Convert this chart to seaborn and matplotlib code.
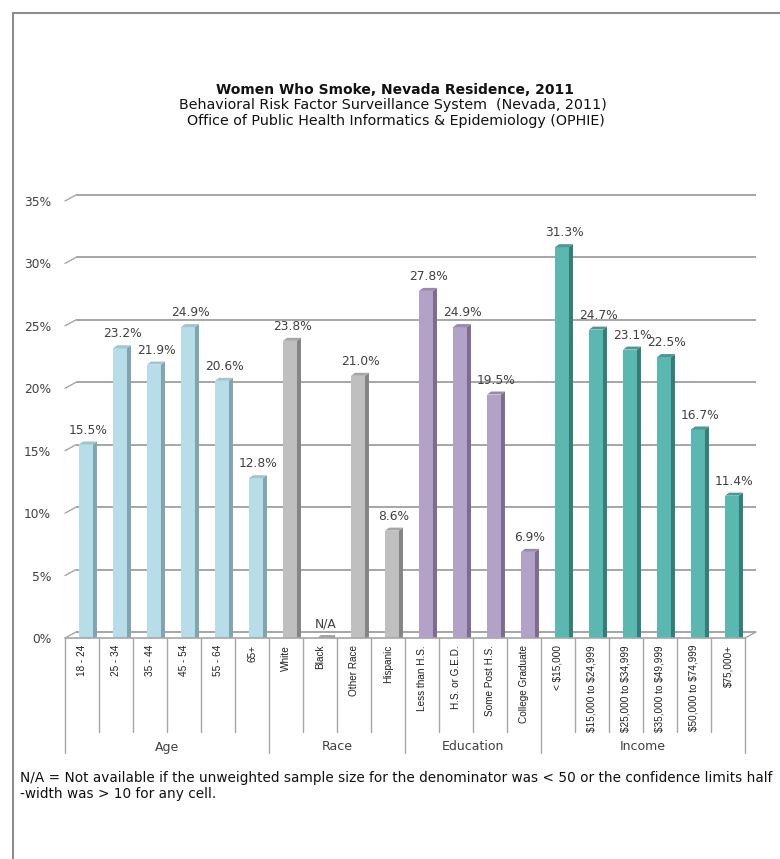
import numpy as np
import pandas as pd
import matplotlib
matplotlib.use("Agg")
import matplotlib.pyplot as plt
import seaborn as sns
from matplotlib.patches import Polygon, Rectangle
from matplotlib.lines import Line2D

# ---------------- data ----------------
groups = ["Age", "Race", "Education", "Income"]
age_cats = ["18 - 24", "25 - 34", "35 - 44", "45 - 54", "55 - 64", "65+"]
age_vals = [15.5, 23.2, 21.9, 24.9, 20.6, 12.8]
race_cats = ["White", "Black", "Other Race", "Hispanic"]
race_vals = [23.8, None, 21.0, 8.6]
edu_cats = ["Less than H.S.", "H.S. or G.E.D.", "Some Post H.S.", "College Graduate"]
edu_vals = [27.8, 24.9, 19.5, 6.9]
inc_cats = ["< $15,000", "$15,000 to $24,999", "$25,000 to $34,999",
            "$35,000 to $49,999", "$50,000 to $74,999", "$75,000+"]
inc_vals = [31.3, 24.7, 23.1, 22.5, 16.7, 11.4]
y_ticks = [0, 5, 10, 15, 20, 25, 30, 35]

title = "Women Who Smoke, Nevada Residence, 2011"
subtitle1 = "Behavioral Risk Factor Surveillance System  (Nevada, 2011)"
subtitle2 = "Office of Public Health Informatics & Epidemiology (OPHIE)"
footnote = ("N/A = Not available if the unweighted sample size for the denominator was < 50 or the confidence limits half\n"
            "-width was > 10 for any cell.")

front_colors = {"Age": "#B7DEE8", "Race": "#BFBFBF", "Education": "#B3A2C7", "Income": "#5BB8B1"}
side_colors = {"Age": "#7FA6B0", "Race": "#858585", "Education": "#7C6C90", "Income": "#327F7A"}
top_colors = {"Age": "#9DC6D0", "Race": "#A5A5A5", "Education": "#9A89AE", "Income": "#449C96"}

# ---------------- frame ----------------
rows = []
for g, cats, vals in [("Age", age_cats, age_vals), ("Race", race_cats, race_vals),
                      ("Education", edu_cats, edu_vals), ("Income", inc_cats, inc_vals)]:
    for c, v in zip(cats, vals):
        rows.append({"category": c, "group": g,
                     "value": 0.0 if v is None else v,
                     "label": "N/A" if v is None else f"{v:.1f}%"})
df = pd.DataFrame(rows)
order = list(df["category"])
n = len(order)

sns.set_style("white")
plt.rcParams["font.family"] = ["DejaVu Sans"]
plt.rcParams["text.parse_math"] = False

W, H, DPI = 780, 859, 100
fig = plt.figure(figsize=(W / DPI, H / DPI), dpi=DPI)

# axes geometry (pixels)
x_left, x_right = 65, 745
y_zero = 638
px_per_unit_y = 12.486
ymax = 36.0
ax = fig.add_axes([x_left / W, (H - y_zero) / H, (x_right - x_left) / W, ymax * px_per_unit_y / H])

sns.barplot(data=df, x="category", y="value", hue="group", order=order, hue_order=groups,
            palette=front_colors, dodge=False, width=0.41, saturation=1, legend=False,
            linewidth=0, ax=ax, zorder=3)
ax.set_xlim(-0.5, n - 0.5)
ax.set_ylim(0, ymax)

px_per_unit_x = (x_right - x_left) / n
shift = 4 / px_per_unit_x
sdx, sdy = 4 / px_per_unit_x, 3 / px_per_unit_y
bdx, bdy = 11 / px_per_unit_x, 6 / px_per_unit_y

bars = sorted([p for p in ax.patches if isinstance(p, Rectangle)], key=lambda p: p.get_x())
for p, (_, r) in zip(bars, df.iterrows()):
    p.set_x(p.get_x() + shift)
    x0, w, h = p.get_x(), p.get_width(), p.get_height()
    xr = x0 + w
    g = r["group"]
    ax.add_patch(Polygon([(xr, 0), (xr, h), (xr + sdx, h + sdy), (xr + sdx, 0)],
                         closed=True, facecolor=side_colors[g], edgecolor="none", zorder=3))
    ax.add_patch(Polygon([(x0, h), (xr, h), (xr + sdx, h + sdy), (x0 + sdx, h + sdy)],
                         closed=True, facecolor=top_colors[g], edgecolor="none", zorder=3))
    ax.annotate(r["label"], (x0 + w / 2 + sdx / 2, h + sdy), xytext=(0, 3.5),
                textcoords="offset points", ha="center", va="bottom",
                fontsize=8.8, color="#404040", zorder=4)

# 3D-like walls: back gridlines + diagonal edges
grid_c = "#A6A6A6"
for v in y_ticks:
    ax.plot([-0.5 + bdx, n - 0.5 + bdx], [v + bdy, v + bdy], color=grid_c, lw=1.4,
            zorder=1, clip_on=False, solid_capstyle="butt")
    ax.plot([-0.5, -0.5 + bdx], [v, v + bdy], color=grid_c, lw=1.0, zorder=1, clip_on=False)
# floor front edge and right edge
ax.plot([-0.5, n - 0.5], [0, 0], color=grid_c, lw=1.2, zorder=5, clip_on=False)
ax.plot([n - 0.5, n - 0.5 + bdx], [0, bdy], color=grid_c, lw=1.0, zorder=5, clip_on=False)

# category separators below the floor
group_bounds = [0]
for g in groups:
    group_bounds.append(group_bounds[-1] + int((df["group"] == g).sum()))
short_bottom = -(732 - y_zero) / px_per_unit_y
long_bottom = -(753 - y_zero) / px_per_unit_y
for k in range(n + 1):
    yb = long_bottom if k in group_bounds else short_bottom
    ax.plot([k - 0.5, k - 0.5], [0, yb], color=grid_c, lw=1.0, clip_on=False, zorder=5)

label_y = -(747 - y_zero) / px_per_unit_y
for i, g in enumerate(groups):
    xc = (group_bounds[i] + group_bounds[i + 1]) / 2 - 0.5
    ax.text(xc, label_y, g, ha="center", va="center", fontsize=9, color="#404040")

# axes styling
for s in ax.spines.values():
    s.set_visible(False)
ax.grid(False)
ax.set_xlabel("")
ax.set_ylabel("")
ax.set_yticks(y_ticks)
ax.set_yticklabels([f"{v}%" for v in y_ticks], fontsize=8.8, color="#404040")
ax.set_xticks(range(n))
ax.set_xticklabels(order, rotation=90, fontsize=7.2, color="#202020",
                   family=["Liberation Sans", "DejaVu Sans"])
ax.tick_params(axis="y", length=0, pad=10)
ax.tick_params(axis="x", length=0, pad=5)

# titles
fig.text(395 / W, 1 - 90 / H, title, ha="center", va="center", fontsize=10, fontweight="bold", color="#111111")
fig.text(393 / W, 1 - 105.5 / H, subtitle1, ha="center", va="center", fontsize=10.3, color="#111111")
fig.text(396 / W, 1 - 121.5 / H, subtitle2, ha="center", va="center", fontsize=10.3, color="#111111")
fig.text(20 / W, 1 - 771 / H, footnote, ha="left", va="top", fontsize=9.8, color="#111111",
         linespacing=1.2)

# outer frame (cropped at right and bottom)
fig.add_artist(Line2D([13 / W, 1.0], [1 - 13 / H, 1 - 13 / H], color="#8C8C8C", lw=1.5,
                      transform=fig.transFigure))
fig.add_artist(Line2D([13 / W, 13 / W], [1 - 13 / H, 0.0], color="#8C8C8C", lw=1.5,
                      transform=fig.transFigure))

fig.savefig("out.png", dpi=DPI, facecolor="white")
